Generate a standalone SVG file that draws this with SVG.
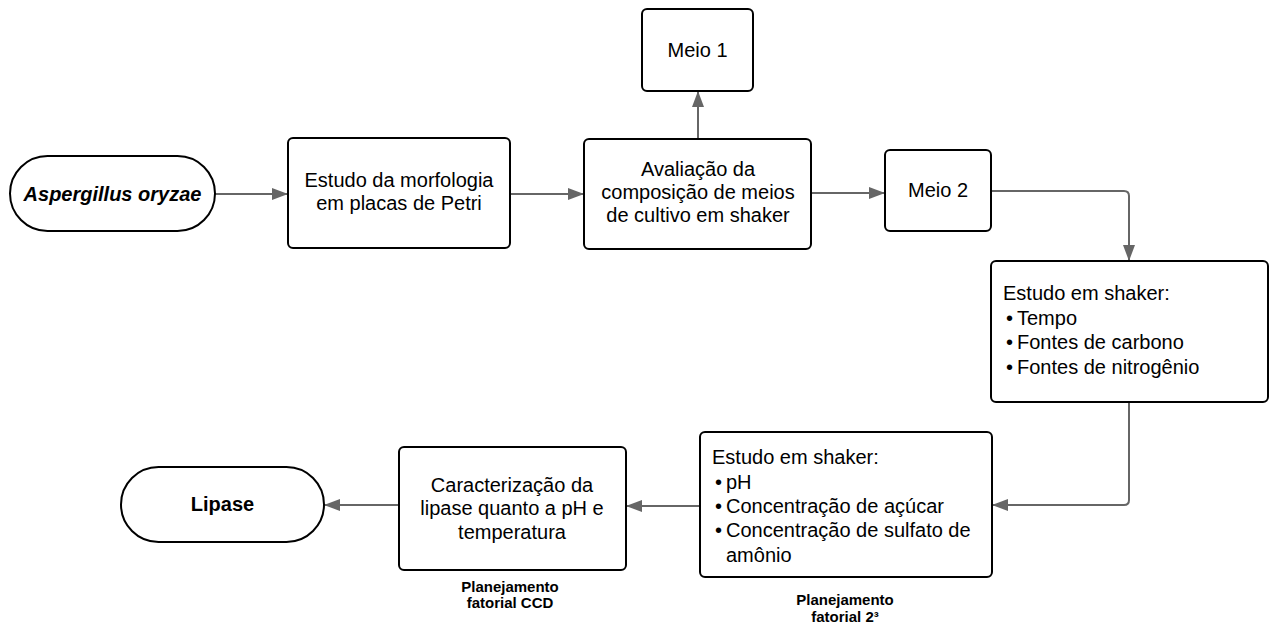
<svg xmlns="http://www.w3.org/2000/svg" width="1275" height="628" viewBox="0 0 1275 628">
<style>
.box{fill:#fff;stroke:#000;stroke-width:2}
.t{font-family:"Liberation Sans",Arial,sans-serif;font-size:20px;fill:#000}
.c{text-anchor:middle}
.b{font-weight:bold}
.lbl{font-family:"Liberation Sans",Arial,sans-serif;font-size:15px;font-weight:bold;fill:#000;text-anchor:middle}
.con{fill:none;stroke:#666;stroke-width:2}
</style>
<defs>
<marker id="ah" markerUnits="userSpaceOnUse" markerWidth="16" markerHeight="12" refX="15" refY="6" orient="auto">
<path d="M0,0 L16,6 L0,12 z" fill="#666"/>
</marker>
</defs>
<rect width="1275" height="628" fill="#fff"/>
<g id="connectors">
<path class="con" d="M215,194 H287" marker-end="url(#ah)"/>
<path class="con" d="M510,194 H583" marker-end="url(#ah)"/>
<path class="con" d="M698,139 V92" marker-end="url(#ah)"/>
<path class="con" d="M811,193 H884" marker-end="url(#ah)"/>
<path class="con" d="M991,191 H1124 Q1129,191 1129,196 V260" marker-end="url(#ah)"/>
<path class="con" d="M1129,402 V500 Q1129,505 1124,505 H993" marker-end="url(#ah)"/>
<path class="con" d="M700,506 H627" marker-end="url(#ah)"/>
<path class="con" d="M399,505 H325" marker-end="url(#ah)"/>
</g>
<g id="aspergillus">
<rect class="box" x="10" y="156" width="205" height="75" rx="37.5"/>
<text class="t c b" x="112.5" y="201" font-style="italic">Aspergillus oryzae</text>
</g>
<g id="morfologia">
<rect class="box" x="288" y="138" width="222" height="110" rx="5"/>
<text class="t c" x="399" y="187">Estudo da morfologia</text>
<text class="t c" x="399" y="210">em placas de Petri</text>
</g>
<g id="avaliacao">
<rect class="box" x="584" y="139" width="227" height="110" rx="5"/>
<text class="t c" x="698" y="176">Avaliação da</text>
<text class="t c" x="698" y="199">composição de meios</text>
<text class="t c" x="698" y="222">de cultivo em shaker</text>
</g>
<g id="meio1">
<rect class="box" x="642" y="9" width="111" height="82" rx="5"/>
<text class="t c" x="697.5" y="57">Meio 1</text>
</g>
<g id="meio2">
<rect class="box" x="885" y="150" width="106" height="81" rx="5"/>
<text class="t c" x="938" y="197">Meio 2</text>
</g>
<g id="shaker1">
<rect class="box" x="991" y="261" width="277" height="141" rx="5"/>
<text class="t" x="1003" y="300">Estudo em shaker:</text>
<text class="t" x="1006" y="324.5">•</text><text class="t" x="1017" y="324.5">Tempo</text>
<text class="t" x="1006" y="349">•</text><text class="t" x="1017" y="349">Fontes de carbono</text>
<text class="t" x="1006" y="373.5">•</text><text class="t" x="1017" y="373.5">Fontes de nitrogênio</text>
</g>
<g id="shaker2">
<rect class="box" x="700" y="432" width="292" height="145" rx="5"/>
<text class="t" x="712" y="464">Estudo em shaker:</text>
<text class="t" x="715" y="489">•</text><text class="t" x="726" y="489">pH</text>
<text class="t" x="715" y="513">•</text><text class="t" x="726" y="513">Concentração de açúcar</text>
<text class="t" x="715" y="537">•</text><text class="t" x="726" y="537">Concentração de sulfato de</text>
<text class="t" x="726" y="562">amônio</text>
</g>
<g id="caracterizacao">
<rect class="box" x="399" y="447" width="227" height="123" rx="5"/>
<text class="t c" x="512" y="492">Caracterização da</text>
<text class="t c" x="512" y="515">lipase quanto a pH e</text>
<text class="t c" x="512" y="539">temperatura</text>
</g>
<g id="lipase">
<rect class="box" x="121" y="467" width="203" height="75" rx="37.5"/>
<text class="t c b" x="222.5" y="511">Lipase</text>
</g>
<g id="label-ccd">
<text class="lbl" x="510" y="592">Planejamento</text>
<text class="lbl" x="510" y="608">fatorial CCD</text>
</g>
<g id="label-2-3">
<text class="lbl" x="845" y="605">Planejamento</text>
<text class="lbl" x="845" y="622">fatorial 2³</text>
</g>
</svg>
